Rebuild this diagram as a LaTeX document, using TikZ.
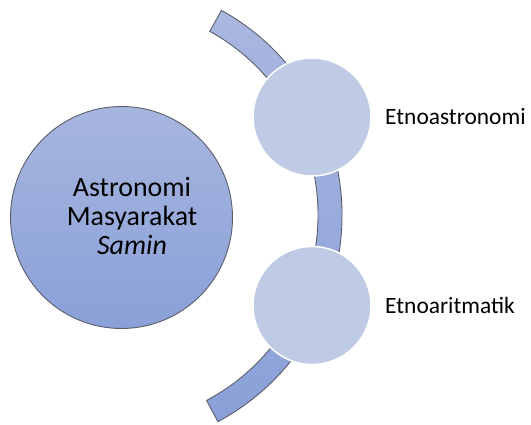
\documentclass[tikz,border=0pt]{standalone}
\usepackage{fontspec}
\setmainfont{Carlito}
\definecolor{bandtop}{HTML}{A9B7E0}
\definecolor{bandbot}{HTML}{8AA0D8}
\definecolor{bigtop}{HTML}{A7B6DF}
\definecolor{bigbot}{HTML}{8AA0D8}
\definecolor{smallfill}{HTML}{BFCAE4}
\definecolor{edge}{HTML}{5A5E6A}
\begin{document}
\begin{tikzpicture}[x=1bp,y=1bp,
  bigcircle/.style={circle,draw=edge,line width=0.9bp,minimum size=222bp,inner sep=0pt,top color=bigtop,bottom color=bigbot},
  smallcircle/.style={circle,draw=white,line width=1.5bp,fill=smallfill,minimum size=118bp,inner sep=0pt},
  label/.style={anchor=west,font=\fontsize{23.5}{27}\selectfont,inner sep=0pt}]
\useasboundingbox (0,0) rectangle (531,424);
% band arc
\path[draw=edge,line width=0.9bp,top color=bandtop,bottom color=bandbot]
  (108,209) ++(61:234) arc[start angle=61,end angle=-62,radius=234]
  -- ++(118:24) arc[start angle=-62,end angle=61,radius=210] -- cycle;
\node[bigcircle] (big) at (121.5,206.5) {};
\node[align=center,font=\fontsize{28}{29}\selectfont] (bigtext) at (132,208) {Astronomi\\Masyarakat\\\textit{Samin}};
\node[smallcircle] (c1) at (312,307) {};
\node[smallcircle] (c2) at (312,118.5) {};
\node[label] (l1) at (385,307) {Etnoastronomi};
\node[label] (l2) at (385,118.5) {Etnoaritmatik};
\end{tikzpicture}
\end{document}
